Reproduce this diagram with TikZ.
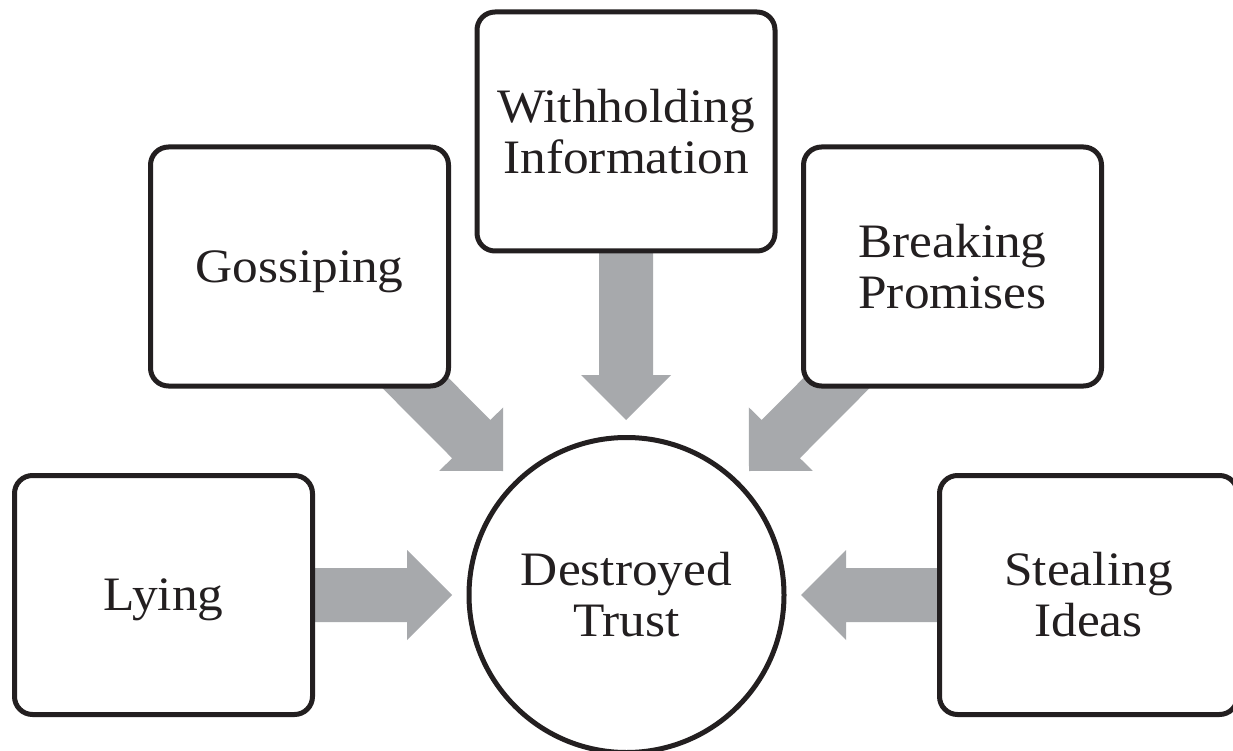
\documentclass[tikz,border=0pt]{standalone}
\usepackage{fontspec}
\setmainfont{Liberation Serif}[FakeStretch=1.07]
\usetikzlibrary{calc,backgrounds}
\definecolor{ink}{HTML}{231F20}
\definecolor{arrowgray}{HTML}{A7A9AC}
\newcommand{\blockarr}[3]{%
  \coordinate (#3h) at ($(#2)!45pt!(#1)$);
  \fill[arrowgray] ($(#1)!27pt!90:(#2)$) -- ($(#3h)!27pt!90:(#2)$) -- ($(#3h)!45pt!90:(#2)$) -- (#2)
    -- ($(#3h)!45pt!-90:(#2)$) -- ($(#3h)!27pt!-90:(#2)$) -- ($(#1)!27pt!-90:(#2)$) -- cycle;}
\begin{document}
\begin{tikzpicture}[x=1pt,y=-1pt,
  cause/.style={draw=ink, line width=5pt, fill=white, rounded corners=18pt,
    minimum width=298pt, minimum height=239pt, inner sep=0pt, align=center,
    text=ink, font=\fontsize{48}{51}\selectfont},
  single/.style={text depth=0pt},
  core/.style={draw=ink, line width=5pt, fill=white, circle, minimum size=315pt,
    inner sep=0pt, align=center, text=ink, font=\fontsize{48}{51}\selectfont}]
\useasboundingbox (0,0) rectangle (1233,751);
% nodes
\node[cause] (W) at (626,131.5) {Withholding\\Information};
\node[cause,single] (G) at (299.5,266.5) {Gossiping};
\node[cause] (B) at (952.5,266.5) {Breaking\\Promises};
\node[cause,single] (L) at (163.5,595) {Lying};
\node[cause] (S) at (1088.5,595) {Stealing\\Ideas};
\node[core] (C) at (626.5,595) {Destroyed\\Trust};
% arrow tips
\coordinate (tipL) at (452,595);
\coordinate (tipS) at (801,595);
\coordinate (tipW) at (626,420);
\coordinate (tipG) at (503,471);
\coordinate (tipB) at (749,471);
\begin{scope}[on background layer]
  \fill[white] (0,0) rectangle (1233,751);
  \blockarr{L.center}{tipL}{aL}
  \blockarr{S.center}{tipS}{aS}
  \blockarr{W.center}{tipW}{aW}
  \blockarr{G.center}{tipG}{aG}
  \blockarr{B.center}{tipB}{aB}
\end{scope}
\end{tikzpicture}
\end{document}
